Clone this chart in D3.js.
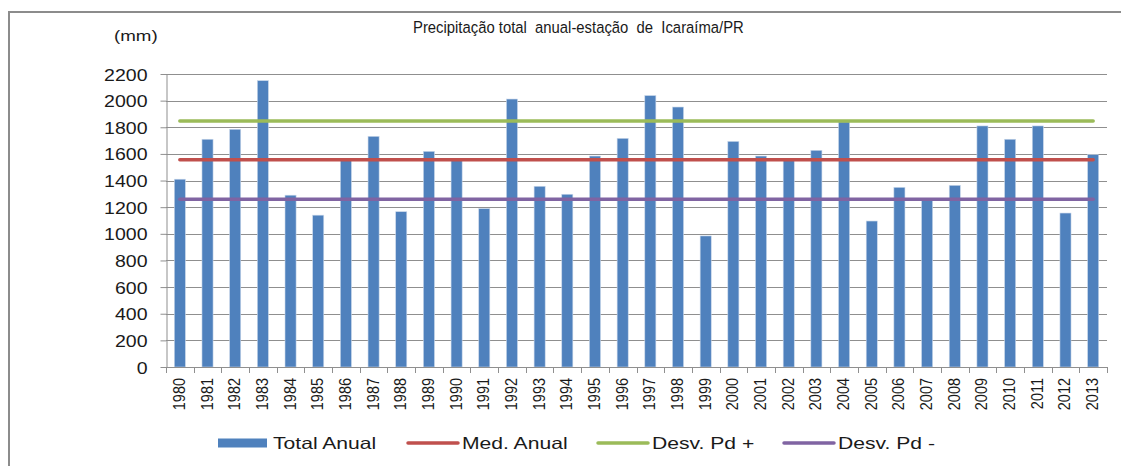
<!DOCTYPE html>
<html>
<head>
<meta charset="utf-8">
<script src="https://cdn.jsdelivr.net/npm/d3@7"></script>
<style>
  body { margin: 0; background: #fff; }
  svg { display: block; font-family: "Liberation Sans", Arial, sans-serif; }
</style>
</head>
<body>
<script>
// precipitacao anual, Icaraima/PR (mm)
var years = ["1980","1981","1982","1983","1984","1985","1986","1987","1988","1989",
  "1990","1991","1992","1993","1994","1995","1996","1997","1998","1999",
  "2000","2001","2002","2003","2004","2005","2006","2007","2008","2009",
  "2010","2011","2012","2013"];
var totalAnual = [1410,1710,1785,2150,1290,1140,1560,1732,1166,1619,
  1555,1189,2012,1357,1297,1584,1717,2038,1952,984,
  1694,1584,1552,1627,1840,1096,1349,1255,1364,1810,
  1710,1810,1156,1594];
var medAnual = 1556;
var desvMais = 1847;
var desvMenos = 1259;
var yTicks = [0,200,400,600,800,1000,1200,1400,1600,1800,2000,2200];

var legendItems = [
  {label: "Total Anual", color: "#4F81BD", kind: "bar"},
  {label: "Med. Anual", color: "#C0504D", kind: "line"},
  {label: "Desv. Pd +", color: "#9BBB59", kind: "line"},
  {label: "Desv. Pd -", color: "#8064A2", kind: "line"}
];

var width = 1121, height = 466;
var margin = {top: 74, right: 14, bottom: 99, left: 166};

var svg = d3.select("body").append("svg")
  .attr("width", width)
  .attr("height", height);

// moldura (so topo e esquerda aparecem)
svg.append("path")
  .attr("d", "M9,466 V12 H1121")
  .attr("fill", "none")
  .attr("stroke", "#8c8c8c")
  .attr("stroke-width", 2);

var x = d3.scaleBand()
  .domain(years)
  .range([margin.left, width - margin.right])
  .paddingInner(0.6)
  .paddingOuter(0.3);

var y = d3.scaleLinear()
  .domain([0, 2200])
  .range([height - margin.bottom, margin.top]);

// o texto do original parece esticado na horizontal
function stretchedText(g, txt, tx, ty, size, sx, anchor) {
  return g.append("text")
    .attr("transform", "translate(" + tx + "," + ty + ") scale(" + sx + ",1)")
    .attr("text-anchor", anchor || "start")
    .attr("font-size", size)
    .attr("fill", "#1a1a1a")
    .text(txt);
}

// gridlines
svg.append("g")
  .selectAll("line")
  .data(yTicks.filter(function(d) { return d > 0; }))
  .enter()
  .append("line")
    .attr("x1", margin.left)
    .attr("x2", width - margin.right)
    .attr("y1", function(d) { return Math.round(y(d)) + 0.5; })
    .attr("y2", function(d) { return Math.round(y(d)) + 0.5; })
    .attr("stroke", "#8f8f8f")
    .attr("stroke-width", 1);

// eixo y
var yAxis = svg.append("g")
  .attr("transform", "translate(" + (margin.left + 0.5) + ",0)")
  .call(d3.axisLeft(y).tickValues(yTicks).tickSize(6).tickSizeOuter(0));
yAxis.select(".domain").attr("stroke", "#8f8f8f");
yAxis.selectAll(".tick line").attr("stroke", "#8f8f8f");
yAxis.selectAll(".tick text").remove();
yAxis.selectAll(".tick").each(function(d) {
  stretchedText(d3.select(this), d, -19, 6, 16, 1.22, "end");
});

// barras
svg.append("g")
  .selectAll("rect")
  .data(totalAnual)
  .enter()
  .append("rect")
    .attr("x", function(d, i) { return x(years[i]); })
    .attr("y", function(d) { return y(d); })
    .attr("width", x.bandwidth())
    .attr("height", function(d) { return y(0) - y(d); })
    .attr("fill", "#4F81BD")
    .attr("stroke", "#c9d7ea")
    .attr("stroke-width", 0.6);

// eixo x
var x0 = margin.left, x1 = width - margin.right;
var xg = svg.append("g");
xg.append("line")
  .attr("x1", x0).attr("x2", x1)
  .attr("y1", y(0) + 0.5).attr("y2", y(0) + 0.5)
  .attr("stroke", "#8f8f8f");
xg.selectAll("line.tk")
  .data(d3.range(years.length + 1))
  .enter()
  .append("line")
    .attr("class", "tk")
    .attr("x1", function(i) { return Math.round(x0 + i * (x1 - x0) / years.length) + 0.5; })
    .attr("x2", function(i) { return Math.round(x0 + i * (x1 - x0) / years.length) + 0.5; })
    .attr("y1", y(0))
    .attr("y2", y(0) + 6)
    .attr("stroke", "#8f8f8f");
xg.selectAll("text")
  .data(years)
  .enter()
  .append("text")
    .attr("transform", function(d) {
      return "translate(" + (x(d) + x.bandwidth() / 2 + 5) + "," + (y(0) + 11) + ") scale(1.1,1) rotate(-90)";
    })
    .attr("text-anchor", "end")
    .attr("font-size", 14.5)
    .attr("fill", "#1a1a1a")
    .text(function(d) { return d; });

// linhas de media e desvio
var lines = [
  {v: medAnual, color: "#C0504D"},
  {v: desvMais, color: "#9BBB59"},
  {v: desvMenos, color: "#8064A2"}
];
var first = x(years[0]) + x.bandwidth() / 2;
var last = x(years[years.length - 1]) + x.bandwidth() / 2;
svg.append("g")
  .selectAll("line")
  .data(lines)
  .enter()
  .append("line")
    .attr("x1", first)
    .attr("x2", last)
    .attr("y1", function(d) { return y(d.v); })
    .attr("y2", function(d) { return y(d.v); })
    .attr("stroke", function(d) { return d.color; })
    .attr("stroke-width", 3.5)
    .attr("stroke-linecap", "round");

// titulo e unidade
stretchedText(svg, "Precipitação total  anual-estação  de  Icaraíma/PR", 413, 33, 16.5, 0.9).style("white-space", "pre");
stretchedText(svg, "(mm)", 114, 41, 15, 1.25);

// legenda
var legX = [218, 407, 597, 783];
var legY = 443;
var leg = svg.append("g");
legendItems.forEach(function(it, i) {
  var g = leg.append("g").attr("transform", "translate(" + legX[i] + "," + legY + ")");
  if (it.kind == "bar") {
    g.append("rect").attr("x", 0).attr("y", -4.5).attr("width", 49).attr("height", 9).attr("fill", it.color);
  } else {
    g.append("line").attr("x1", 1).attr("x2", 51).attr("y1", 0).attr("y2", 0)
      .attr("stroke", it.color).attr("stroke-width", 3.5).attr("stroke-linecap", "round");
  }
  stretchedText(g, it.label, 55, 6, 16.5, 1.28);
});
</script>
</body>
</html>
